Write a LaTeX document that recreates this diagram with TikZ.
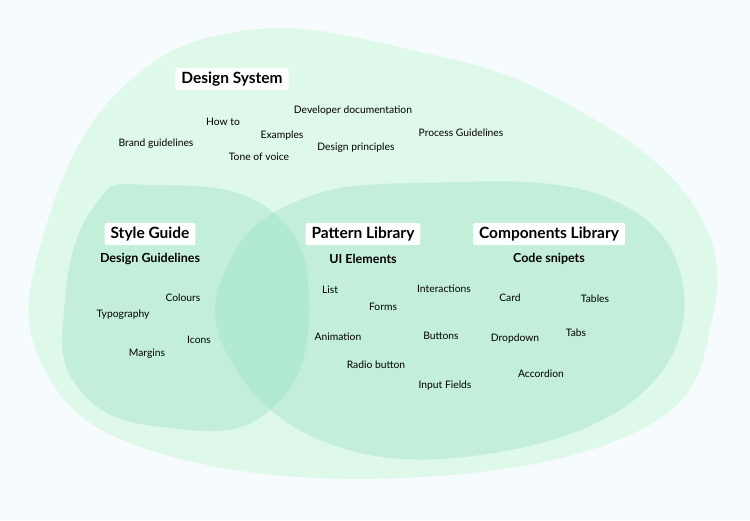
\documentclass[tikz,border=0pt]{standalone}
\usepackage{fontspec}
\setmainfont{Lato}
\begin{document}
\begin{tikzpicture}[x=1pt,y=-1pt,
  title/.style={fill=white,rounded corners=2pt,font=\bfseries\fontsize{15.5}{17}\selectfont,inner xsep=6pt,inner ysep=4pt},
  sub/.style={font=\bfseries\fontsize{12.5}{14}\selectfont},
  item/.style={font=\fontsize{10.3}{12}\selectfont}]
\useasboundingbox (0,0) rectangle (750,520);
\fill[fill={rgb,255:red,246;green,251;blue,253}] (0,0) rectangle (750,520);
\fill[fill={rgb,255:red,222;green,248;blue,233}] plot[smooth cycle,tension=0.7] coordinates {(250,30) (420,52) (560,100) (690,200) (712,320) (640,430) (400,478) (150,450) (40,360) (45,230) (120,90)};
\fill[fill={rgb,255:red,160;green,228;blue,200},opacity=0.45] plot[smooth cycle,tension=0.8] coordinates {(150,185) (270,210) (309,310) (270,410) (170,428) (80,390) (65,300) (95,205)};
\fill[fill={rgb,255:red,160;green,228;blue,200},opacity=0.45] plot[smooth cycle,tension=0.7] coordinates {(420,183) (600,195) (682,280) (640,395) (480,455) (320,440) (225,350) (230,260) (300,200)};
\node[title] (ds) at (232,79) {Design System};
\node[title] (sg) at (150,234) {Style Guide};
\node[title] (pl) at (363,234) {Pattern Library};
\node[title] (cl) at (549,234) {Components Library};
\node[sub] (dg) at (150,259) {Design Guidelines};
\node[sub] (ui) at (363,259) {UI Elements};
\node[sub] (cs) at (549,259) {Code snipets};
\node[item] (a1) at (223,122) {How to};
\node[item] (a2) at (353,111) {Developer documentation};
\node[item] (a3) at (282,136) {Examples};
\node[item] (a4) at (156,144) {Brand guidelines};
\node[item] (a5) at (461,133) {Process Guidelines};
\node[item] (a6) at (259,157) {Tone of voice};
\node[item] (a7) at (356,148) {Design principles};
\node[item] (b1) at (183,298) {Colours};
\node[item] (b2) at (123,315) {Typography};
\node[item] (b3) at (199,340) {Icons};
\node[item] (b4) at (147,354) {Margins};
\node[item] (c1) at (330,290) {List};
\node[item] (c2) at (383,307) {Forms};
\node[item] (c3) at (444,289) {Interactions};
\node[item] (c4) at (338,337) {Animation};
\node[item] (c5) at (441,336) {Buttons};
\node[item] (c6) at (376,365) {Radio button};
\node[item] (c7) at (445,386) {Input Fields};
\node[item] (d1) at (510,298) {Card};
\node[item] (d2) at (595,299) {Tables};
\node[item] (d3) at (576,333) {Tabs};
\node[item] (d4) at (515,339) {Dropdown};
\node[item] (d5) at (541,374) {Accordion};
\end{tikzpicture}
\end{document}
